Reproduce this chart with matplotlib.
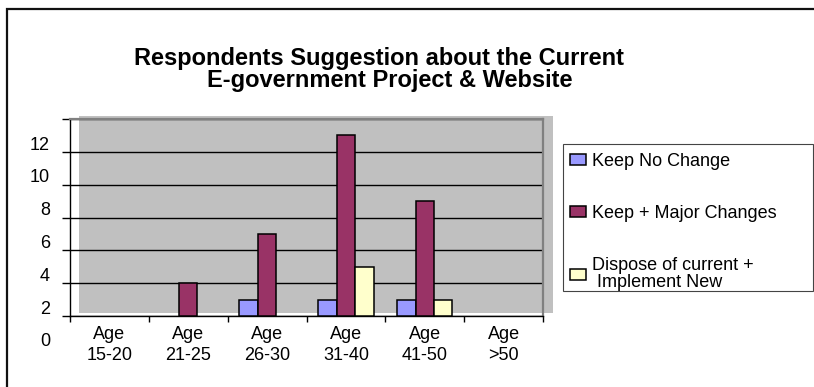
import matplotlib
matplotlib.use("Agg")
import matplotlib.pyplot as plt
from matplotlib.patches import Rectangle
from matplotlib.transforms import ScaledTranslation
import numpy as np

plt.rcParams['font.family'] = ['Liberation Sans', 'DejaVu Sans']

# data
age_groups = ["Age\n15-20", "Age\n21-25", "Age\n26-30", "Age\n31-40", "Age\n41-50", "Age\n>50"]
keep_no_change = [0, 0, 1, 1, 1, 0]
keep_major = [0, 2, 5, 11, 7, 0]
dispose_new = [0, 0, 0, 3, 1, 0]
series_names = ["Keep No Change", "Keep + Major Changes", "Dispose of current +\n Implement New"]
series_colors = ["#9999ff", "#993366", "#ffffcc"]
y_ticks = [0, 2, 4, 6, 8, 10, 12]

W, H = 814, 387
def fx(x):
    return x / W
def fy(y):
    return 1 - y / H

fig = plt.figure(figsize=(W / 100, H / 100), dpi=100)

# outer chart frame (right / bottom edges are cut off in the original)
fig.patches.append(Rectangle((fx(7), fy(420)), fx(850) - fx(7), fy(9) - fy(420),
                             transform=fig.transFigure, fill=False,
                             edgecolor="#111111", lw=1.6, zorder=-2))
# grey back wall, slightly offset from the axes
fig.patches.append(Rectangle((fx(79), fy(313)), fx(553) - fx(79), fy(116) - fy(313),
                             transform=fig.transFigure, facecolor="#c0c0c0",
                             edgecolor="none", zorder=-1))

ax = fig.add_axes([fx(70), fy(316), fx(543) - fx(70), fy(119) - fy(316)])
ax.patch.set_visible(False)

x = np.arange(len(age_groups)) + 0.5
bw = 0.234
bars = []
for i, (vals, col) in enumerate(zip([keep_no_change, keep_major, dispose_new], series_colors)):
    # zero bars get no outline, like the original
    lws = [1.1 if v else 0 for v in vals]
    b = ax.bar(x + (i - 1) * bw, vals, width=bw, color=col, edgecolor="black", lw=lws, zorder=3)
    bars.append(b)

ax.set_xlim(0, len(age_groups))
ax.set_ylim(0, 12)

ax.set_yticks(y_ticks)
ax.yaxis.grid(True, color="black", lw=1)
ax.set_axisbelow(True)
ax.tick_params(axis="y", length=5.8, width=1, direction="out", labelleft=False)

# y labels sit lower than their gridlines (3-D floor offset in the original)
off = ScaledTranslation(-20 / 100, -26 / 100, fig.dpi_scale_trans)
for v in y_ticks:
    ax.text(0, v, str(v), transform=ax.get_yaxis_transform() + off,
            ha="right", va="center", fontsize=13)

ax.set_xticks(range(len(age_groups) + 1))
ax.tick_params(axis="x", which="major", length=4.3, width=1, direction="out", labelbottom=False)
ax.set_xticks(x, minor=True)
ax.set_xticklabels(age_groups, minor=True, fontsize=13, linespacing=1.3)
ax.tick_params(axis="x", which="minor", length=0, pad=7)

for s in ["left", "bottom"]:
    ax.spines[s].set_color("black")
    ax.spines[s].set_linewidth(1)
for s in ["top", "right"]:
    ax.spines[s].set_color("#808080")
    ax.spines[s].set_linewidth(1.6)

# title
fig.text(fx(379.5), fy(65), "Respondents Suggestion about the Current",
         ha="center", va="baseline", fontsize=17, fontweight="bold")
fig.text(fx(390), fy(87), "E-government Project & Website",
         ha="center", va="baseline", fontsize=17, fontweight="bold")

# legend (use the 31-40 bars as handles, every series is non-zero there)
leg = fig.legend([b[3] for b in bars], series_names, loc="upper left",
                 bbox_to_anchor=(fx(570), fy(153)), frameon=False, fontsize=13,
                 handlelength=0.9, handleheight=0.55, handletextpad=0.3,
                 labelspacing=1.95, borderpad=0, borderaxespad=0)
for t in leg.get_texts():
    t.set_linespacing(0.95)
fig.patches.append(Rectangle((fx(563), fy(291)), fx(813) - fx(563), fy(144) - fy(291),
                             transform=fig.transFigure, fill=False,
                             edgecolor="#444444", lw=0.8))

fig.savefig("out.png", dpi=100)
